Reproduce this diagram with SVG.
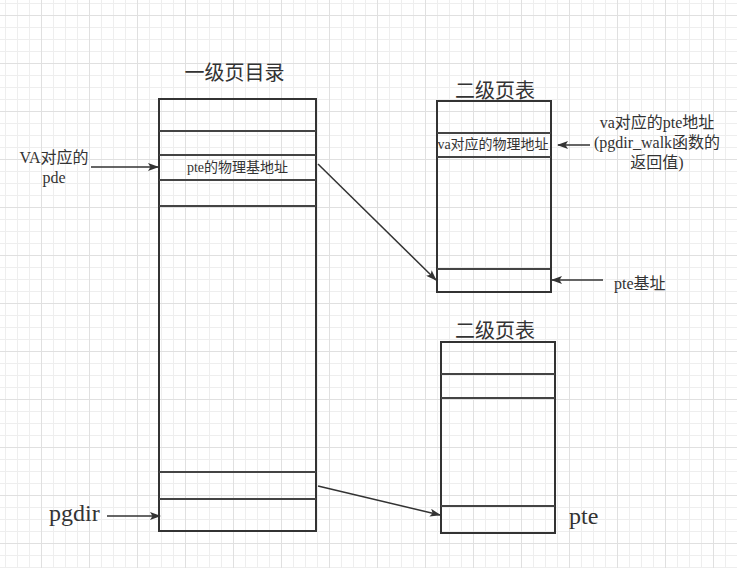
<svg xmlns="http://www.w3.org/2000/svg" width="737" height="568" viewBox="0 0 737 568">
<defs>
<pattern id="minor" x="5" y="3" width="12" height="12" patternUnits="userSpaceOnUse">
<path d="M0.5 0V12M0 0.5H12" fill="none" stroke="#eeeeee" stroke-width="1"/>
</pattern>
<pattern id="major" x="41" y="63" width="48" height="48" patternUnits="userSpaceOnUse">
<path d="M0.5 0V48M0 0.5H48" fill="none" stroke="#e0e0e0" stroke-width="1"/>
</pattern>
<marker id="arr" viewBox="0 0 11 8" refX="10" refY="4" markerWidth="11" markerHeight="8" markerUnits="userSpaceOnUse" orient="auto">
<path d="M0 0L11 4L0 8L2.5 4Z" fill="#333"/>
</marker>
</defs>
<style>
.box{fill:none;stroke:#333;stroke-width:2}
.div{stroke:#444;stroke-width:2}
.t{font-family:"Liberation Serif","Noto Sans CJK SC",serif;fill:#333}
.h{font-family:"Noto Sans CJK SC","Liberation Sans",sans-serif;font-size:20px;fill:#333;text-anchor:middle}
.c{stroke:#333;stroke-width:1.5;fill:none;marker-end:url(#arr)}
</style>
<rect width="737" height="568" fill="#fff"/>
<rect width="737" height="568" fill="url(#minor)"/>
<rect width="737" height="568" fill="url(#major)"/>

<g id="pgdir-table">
<text class="h" x="234.5" y="80">一级页目录</text>
<rect class="box" x="159" y="99" width="157" height="432"/>
<line class="div" x1="159" y1="131" x2="316" y2="131"/>
<line class="div" x1="159" y1="155" x2="316" y2="155"/>
<line class="div" x1="159" y1="180" x2="316" y2="180"/>
<line class="div" x1="159" y1="206" x2="316" y2="206"/>
<line class="div" x1="159" y1="472" x2="316" y2="472"/>
<line class="div" x1="159" y1="499" x2="316" y2="499"/>
<text class="t" x="237.5" y="172" font-size="14" text-anchor="middle">pte的物理基地址</text>
</g>

<g id="pt-upper">
<text class="h" x="495" y="98">二级页表</text>
<rect class="box" x="437" y="101" width="114" height="191"/>
<line class="div" x1="437" y1="133" x2="551" y2="133"/>
<line class="div" x1="437" y1="157" x2="551" y2="157"/>
<line class="div" x1="437" y1="269" x2="550" y2="269"/>
<text class="t" x="493" y="149" font-size="14" text-anchor="middle">va对应的物理地址</text>
</g>

<g id="pt-lower">
<text class="h" x="495" y="338">二级页表</text>
<rect class="box" x="441" y="342" width="114" height="191"/>
<line class="div" x1="441" y1="374" x2="555" y2="374"/>
<line class="div" x1="441" y1="398" x2="555" y2="398"/>
<line class="div" x1="441" y1="506" x2="555" y2="506"/>
</g>

<g id="labels">
<text class="t" font-size="16" text-anchor="middle"><tspan x="54" y="163">VA对应的</tspan><tspan x="54" y="183">pde</tspan></text>
<text class="t" font-size="16" text-anchor="middle"><tspan x="657" y="128">va对应的pte地址</tspan><tspan x="657" y="148">(pgdir_walk函数的</tspan><tspan x="657" y="168">返回值)</tspan></text>
<text class="t" font-size="16" x="614" y="289">pte基址</text>
<text class="t" font-size="24" x="49" y="521">pgdir</text>
<text class="t" font-size="24" x="569" y="524">pte</text>
</g>

<g id="connectors">
<line class="c" x1="91" y1="167" x2="158" y2="167"/>
<line class="c" x1="107" y1="516" x2="160" y2="516"/>
<line class="c" x1="590" y1="145" x2="558" y2="145"/>
<line class="c" x1="603" y1="280" x2="552" y2="280"/>
<line class="c" x1="318" y1="164" x2="436" y2="280"/>
<line class="c" x1="318" y1="486" x2="440" y2="515"/>
</g>
</svg>
